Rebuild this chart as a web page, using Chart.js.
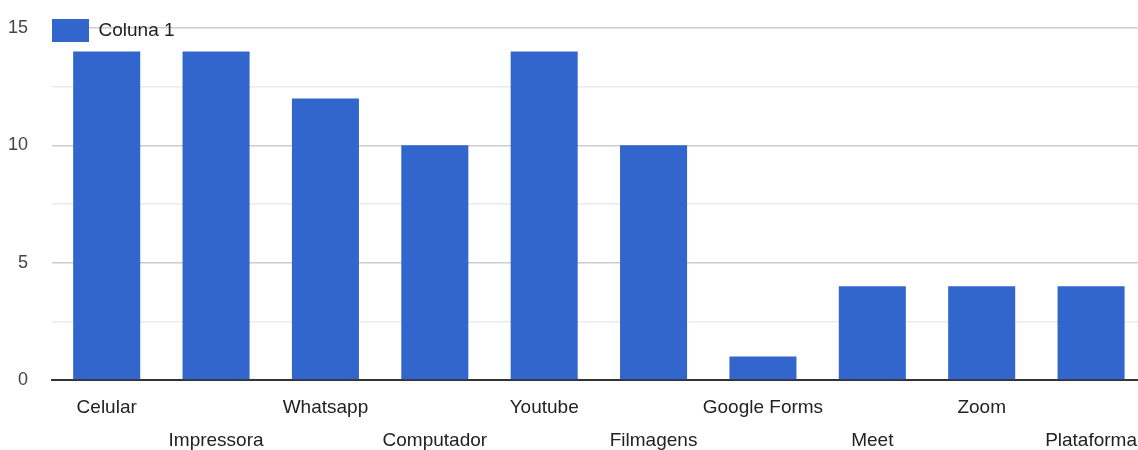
<!DOCTYPE html>
<html>
<head>
<meta charset="utf-8">
<script src="https://cdn.jsdelivr.net/npm/chart.js@4.4.1/dist/chart.umd.min.js"></script>
<style>
    html, body { margin: 0; padding: 0; background: #fff; overflow: hidden; }
    #wrap { width: 1149px; height: 450px; }
</style>
</head>
<body>
<div id="wrap"><canvas id="barChart"></canvas></div>
<script>
// Données du graphique
const categories = ["Celular", "Impressora", "Whatsapp", "Computador", "Youtube",
                    "Filmagens", "Google Forms", "Meet", "Zoom", "Plataforma"];
const coluna1 = [14, 14, 12, 10, 14, 10, 1, 4, 4, 4];
const yTicks = [0, 5, 10, 15];

// Placer la légende à cheval sur la ligne du haut
const legendShift = {
    id: 'legendShift',
    afterLayout(chart) {
        const lg = chart.legend;
        if (!lg) return;
        lg.top = 19;
        lg.bottom = 19 + lg.height;
    }
};

const ctx = document.getElementById('barChart').getContext('2d');

new Chart(ctx, {
    type: 'bar',
    data: {
        labels: categories,
        datasets: [{
            label: 'Coluna 1',
            data: coluna1,
            backgroundColor: '#3366cc',
            borderWidth: 0,
            categoryPercentage: 1,
            barPercentage: 0.613
        }]
    },
    options: {
        responsive: true,
        maintainAspectRatio: false,
        animation: false,
        layout: { padding: { top: 28, left: 0, right: 0, bottom: 0 } },
        plugins: {
            tooltip: { enabled: false },
            legend: {
                position: 'chartArea',
                align: 'start',
                labels: {
                    boxWidth: 37,
                    boxHeight: 23,
                    padding: 0,
                    color: '#222',
                    font: { family: 'Liberation Sans, Arial, sans-serif', size: 19 }
                }
            }
        },
        scales: {
            x: {
                grid: { display: false, drawTicks: false },
                border: { display: true, color: '#333', width: 2 },
                ticks: {
                    autoSkip: false,
                    maxRotation: 0,
                    padding: 12,
                    color: '#222',
                    font: { family: 'Liberation Sans, Arial, sans-serif', size: 19, lineHeight: 1.7 },
                    // Étiquettes décalées sur deux lignes
                    callback: function (value, index) {
                        const label = categories[index];
                        return index % 2 === 1 ? ['', label] : label;
                    }
                },
                afterFit: function (scale) { scale.height = 70; }
            },
            y: {
                min: 0,
                max: 15,
                border: { display: false },
                grid: {
                    drawTicks: false,
                    color: function (c) {
                        return yTicks.includes(c.tick.value) ? '#cccccc' : '#ebebeb';
                    },
                    lineWidth: 1.5
                },
                ticks: {
                    stepSize: 2.5,
                    padding: 24,
                    color: '#444',
                    font: { family: 'Liberation Sans, Arial, sans-serif', size: 18 },
                    callback: function (value) {
                        return yTicks.includes(value) ? value : '';
                    }
                },
                afterFit: function (scale) {
                    scale.width = 52;
                    scale.paddingTop = 0;
                    scale.paddingBottom = 0;
                }
            }
        }
    },
    plugins: [legendShift]
});
</script>
</body>
</html>
